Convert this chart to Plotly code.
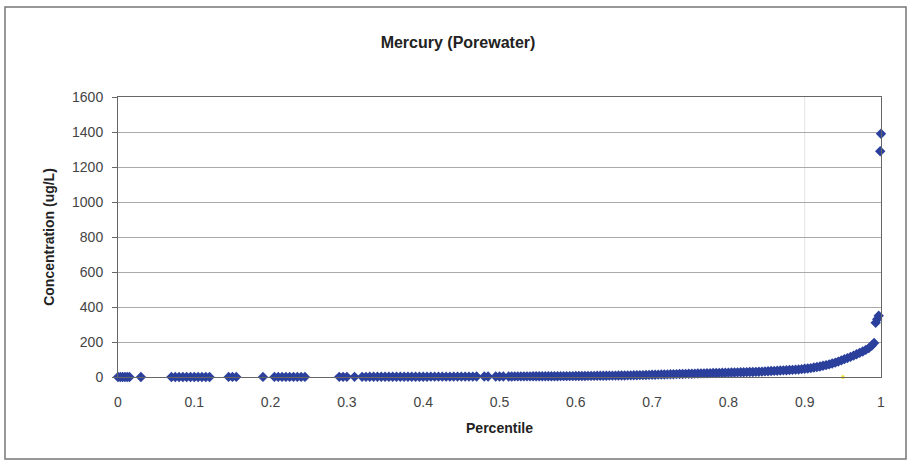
import plotly.graph_objects as go

# Percentile (x) and concentration in ug/L (y)
pct = [0.0, 0.003, 0.006, 0.009, 0.012, 0.015, 0.03,
       0.07, 0.075, 0.08, 0.085, 0.09, 0.095, 0.1, 0.105, 0.11, 0.115, 0.12,
       0.145, 0.15, 0.155, 0.19,
       0.205, 0.21, 0.215, 0.22, 0.225, 0.23, 0.235, 0.24, 0.245,
       0.29, 0.295, 0.3, 0.31,
       0.32, 0.325, 0.33, 0.335, 0.34, 0.345, 0.35, 0.355, 0.36, 0.365,
       0.37, 0.375, 0.38, 0.385, 0.39, 0.395, 0.4, 0.405, 0.41, 0.415,
       0.42, 0.425, 0.43, 0.435, 0.44, 0.445, 0.45, 0.455, 0.46, 0.465, 0.47,
       0.48, 0.485, 0.495, 0.5, 0.505,
       0.512, 0.516, 0.52, 0.524, 0.528, 0.532, 0.536, 0.54, 0.544, 0.548,
       0.552, 0.556, 0.56, 0.564, 0.568, 0.572, 0.576, 0.58, 0.584, 0.588,
       0.592, 0.596, 0.6, 0.604, 0.608, 0.612, 0.616, 0.62, 0.624, 0.628,
       0.632, 0.636, 0.64, 0.644, 0.648, 0.652, 0.656, 0.66, 0.664, 0.668,
       0.672, 0.676, 0.68, 0.684, 0.688, 0.692, 0.696, 0.7, 0.704, 0.708,
       0.712, 0.716, 0.72, 0.724, 0.728, 0.732, 0.736, 0.74, 0.744, 0.748,
       0.752, 0.756, 0.76, 0.764, 0.768, 0.772, 0.776, 0.78, 0.784, 0.788,
       0.792, 0.796, 0.8, 0.804, 0.808, 0.812, 0.816, 0.82, 0.824, 0.828,
       0.832, 0.836, 0.84, 0.844, 0.848, 0.852, 0.856, 0.86, 0.864, 0.868,
       0.872, 0.876, 0.88, 0.884, 0.888, 0.892, 0.896, 0.9, 0.904, 0.908,
       0.912, 0.916, 0.92, 0.924, 0.928, 0.932, 0.936, 0.94, 0.944, 0.948,
       0.952, 0.956, 0.96, 0.964, 0.968, 0.972, 0.976, 0.98, 0.984, 0.988,
       0.991, 0.993, 0.995, 0.997, 0.999, 1.0]
conc = [0.1, 0.1, 0.1, 0.1, 0.1, 0.1, 0.2,
        0.3, 0.3, 0.3, 0.3, 0.3, 0.3, 0.3, 0.3, 0.3, 0.3, 0.3,
        0.5, 0.5, 0.5, 0.6,
        0.7, 0.7, 0.7, 0.7, 0.7, 0.7, 0.7, 0.7, 0.7,
        0.8, 0.8, 0.8, 0.9,
        1.0, 1.0, 1.1, 1.1, 1.2, 1.2, 1.3, 1.3, 1.4, 1.4,
        1.5, 1.5, 1.6, 1.6, 1.7, 1.7, 1.8, 1.8, 1.9, 1.9,
        2.0, 2.0, 2.1, 2.1, 2.2, 2.2, 2.3, 2.3, 2.4, 2.4, 2.5,
        2.6, 2.7, 2.8, 2.9, 3.0,
        3.1, 3.2, 3.3, 3.4, 3.5, 3.6, 3.7, 3.8, 3.9, 4.0,
        4.1, 4.2, 4.3, 4.4, 4.5, 4.6, 4.7, 4.8, 4.9, 5.0,
        5.1, 5.2, 5.4, 5.6, 5.8, 6.0, 6.2, 6.4, 6.6, 6.8,
        7.0, 7.2, 7.4, 7.6, 7.8, 8.0, 8.3, 8.6, 8.9, 9.2,
        9.5, 9.8, 10.1, 10.5, 11.0, 11.5, 12.0, 12.5, 13.0, 13.5,
        14.0, 14.5, 15.0, 15.5, 16.0, 16.5, 17.0, 17.5, 18.0, 18.5,
        19.0, 19.5, 20.0, 20.5, 21.0, 21.5, 22.0, 22.5, 23.0, 23.5,
        24.0, 24.5, 25.0, 25.5, 26.0, 26.5, 27.0, 27.5, 28.0, 28.5,
        29.0, 29.5, 30.0, 31.0, 32.0, 33.0, 34.0, 35.0, 36.0, 37.0,
        38.0, 39.0, 40.0, 41.0, 42.0, 43.0, 45.0, 47.0, 49.0, 51.0,
        54.0, 57.0, 60.0, 64.0, 68.0, 72.0, 77.0, 82.0, 88.0, 95.0,
        102.0, 108.0, 115.0, 122.0, 130.0, 138.0, 146.0, 155.0, 165.0, 180.0,
        195.0, 310.0, 330.0, 350.0, 1290.0, 1390.0]

# 95th percentile marker (yellow point)
p95_x = [0.95]
p95_y = [0]

x_ticks = [0, 0.1, 0.2, 0.3, 0.4, 0.5, 0.6, 0.7, 0.8, 0.9, 1]
y_ticks = [0, 200, 400, 600, 800, 1000, 1200, 1400, 1600]

W, H = 911, 464
L, R, T, B = 118, 30, 97, 87
pw = W - L - R
ph = H - T - B

def px_to_paper_x(px):
    return (px - L) / pw

def px_to_paper_y(py):
    return (H - B - py) / ph

blue = "#2B3F9C"
font = "Liberation Sans, Arial, sans-serif"

fig = go.Figure()
fig.add_trace(go.Scatter(
    x=pct, y=conc, mode="markers",
    marker=dict(symbol="diamond", size=8, color=blue, line=dict(width=0)),
    cliponaxis=False, showlegend=False,
))
fig.add_trace(go.Scatter(
    x=p95_x, y=p95_y, mode="markers",
    marker=dict(symbol="circle", size=4, color="#F2E24A", line=dict(width=0)),
    cliponaxis=False, showlegend=False,
))

fig.update_layout(
    width=W, height=H,
    margin=dict(l=L, r=R, t=T, b=B, autoexpand=False),
    paper_bgcolor="white", plot_bgcolor="white",
    font=dict(family=font, color="#333333", size=14),
    title=dict(text="<b>Mercury (Porewater)</b>", x=458 / W, xanchor="center",
               y=1 - 42 / H, yanchor="middle",
               font=dict(family=font, size=16, color="#222222")),
    xaxis=dict(range=[0, 1], tickvals=x_ticks, ticktext=[str(v) for v in x_ticks],
               showgrid=False, zeroline=False, showline=True, linecolor="#666666",
               linewidth=1, mirror=True, ticks="outside", ticklen=12,
               tickcolor="rgba(0,0,0,0)",
               tickfont=dict(size=14, color="#444444"),
               title=dict(text="<b>Percentile</b>", standoff=14,
                          font=dict(size=14, color="#222222"))),
    yaxis=dict(range=[0, 1600], tickvals=y_ticks, ticktext=[str(v) for v in y_ticks],
               showgrid=True, gridcolor="#AAAAAA", gridwidth=1,
               zeroline=False, showline=True, linecolor="#666666",
               linewidth=1, mirror=True, ticks="outside", ticklen=5,
               tickcolor="#666666", ticklabelstandoff=6,
               tickfont=dict(size=14, color="#444444"),
               title=dict(text="<b>Concentration (ug/L)</b>", standoff=14,
                          font=dict(size=14, color="#222222"))),
)

# faint vertical line at 0.9
fig.add_shape(type="line", xref="x", yref="paper", x0=0.9, x1=0.9, y0=0, y1=1,
              line=dict(color="#E4E4E4", width=1), layer="below")

# outer chart border
fig.add_shape(type="rect", xref="paper", yref="paper",
              x0=px_to_paper_x(5), x1=px_to_paper_x(906),
              y0=px_to_paper_y(459), y1=px_to_paper_y(7),
              line=dict(color="#777777", width=1.5), fillcolor="rgba(0,0,0,0)")

fig.write_html("out.html")
